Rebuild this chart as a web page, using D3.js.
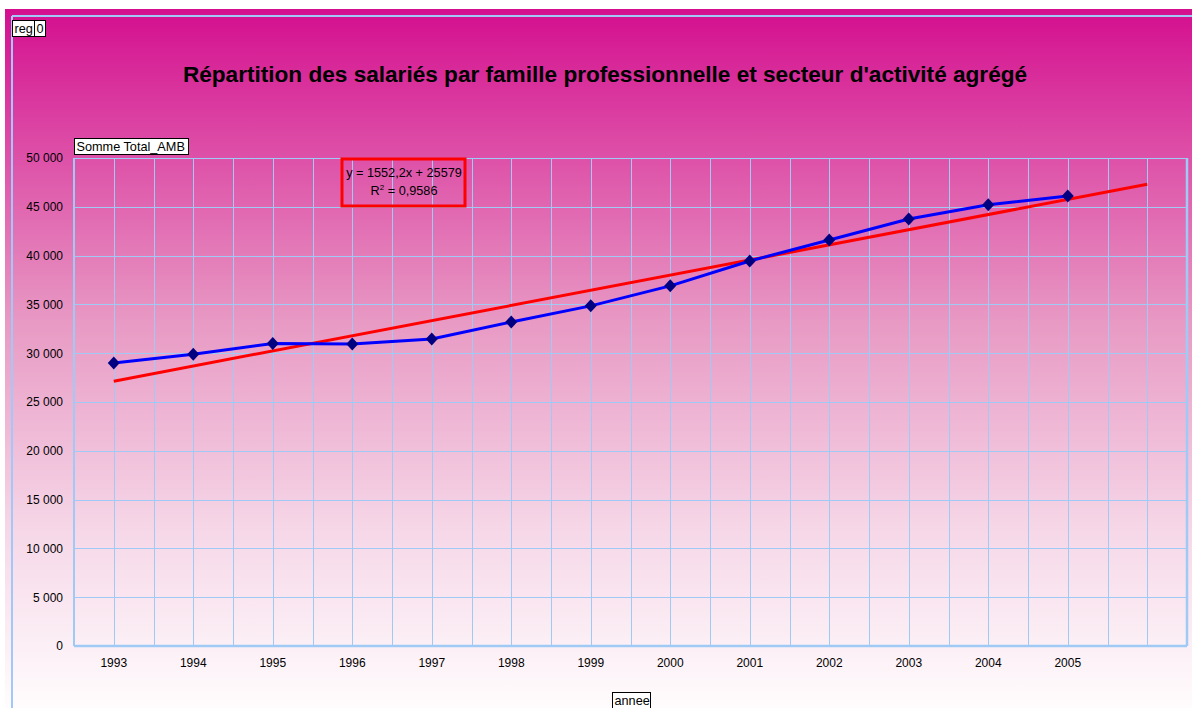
<!DOCTYPE html>
<html>
<head>
<meta charset="utf-8">
<script src="https://cdn.jsdelivr.net/npm/d3@7"></script>
<style>
  body { margin: 0; background: #fff; }
  text { font-family: "Liberation Sans", Arial, sans-serif; }
</style>
</head>
<body>
<div id="chart"></div>
<script>
// chart data
var years = ["1993","1994","1995","1996","1997","1998","1999","2000","2001","2002","2003","2004","2005",""];
var totalAMB = [29000, 29900, 31000, 30950, 31450, 33200, 34850, 36900, 39450, 41600, 43750, 45200, 46100];
var yTicks = [0, 5000, 10000, 15000, 20000, 25000, 30000, 35000, 40000, 45000, 50000];
var trendSlope = 1552.2, trendIntercept = 25579;
var trendEq = "y = 1552,2x + 25579";
var trendR2 = "0,9586";
var title = "Répartition des salariés par famille professionnelle et secteur d'activité agrégé";

var W = 1192, H = 708;
var margin = {top: 158, right: 5, bottom: 62, left: 74};
var width = W - margin.left - margin.right,
    height = H - margin.top - margin.bottom;

var svg = d3.select("#chart").append("svg")
  .attr("width", W).attr("height", H);

// background gradient
var defs = svg.append("defs");
var grad = defs.append("linearGradient").attr("id", "bg")
  .attr("x1", 0).attr("y1", 0).attr("x2", 0).attr("y2", 1);
grad.append("stop").attr("offset", "0%").attr("stop-color", "#d40f8f");
grad.append("stop").attr("offset", "45%").attr("stop-color", "#e89ac4");
grad.append("stop").attr("offset", "75%").attr("stop-color", "#f6d8e8");
grad.append("stop").attr("offset", "100%").attr("stop-color", "#fffcfd");

svg.append("rect").attr("x", 5).attr("y", 9).attr("width", W - 5).attr("height", H - 9)
  .attr("fill", "url(#bg)");

// outer border
svg.append("line").attr("x1", 12).attr("x2", W).attr("y1", 16).attr("y2", 16)
  .attr("stroke", "#a0c8f8").attr("stroke-width", 2);
svg.append("line").attr("x1", 12).attr("x2", 12).attr("y1", 16).attr("y2", H)
  .attr("stroke", "#a0c8f8").attr("stroke-width", 2);

// small boxed labels
function boxLabel(x, y, txt, w) {
  var g = svg.append("g").attr("transform", "translate(" + x + "," + y + ")");
  g.append("rect").attr("width", w).attr("height", 16)
    .attr("fill", "#fff").attr("stroke", "#000").attr("stroke-width", 1);
  g.append("text").attr("x", 2).attr("y", 12.5).attr("font-size", 12.7).text(txt);
  return g;
}
boxLabel(12.5, 20.5, "reg", 22);
boxLabel(34.5, 20.5, "0", 11);
boxLabel(74.5, 138.5, "Somme Total_AMB", 114);
boxLabel(612.5, 692.5, "annee", 38);

svg.append("text").attr("x", 605).attr("y", 82)
  .attr("text-anchor", "middle").attr("font-size", 22.6).attr("font-weight", "bold")
  .text(title);

var g = svg.append("g").attr("transform", "translate(" + margin.left + "," + margin.top + ")");

var x = d3.scaleBand().domain(years).range([0, width]);
var y = d3.scaleLinear().domain([0, 50000]).range([height, 0]);

// grid
var gridColor = "#9fcaf5";
var vlines = [];
years.forEach(function(d) { vlines.push(x(d)); vlines.push(x(d) + x.bandwidth() / 2); });
vlines.push(width);
g.selectAll(".vgrid").data(vlines).enter().append("line")
  .attr("x1", function(d) { return Math.round(d) + 0.5; })
  .attr("x2", function(d) { return Math.round(d) + 0.5; })
  .attr("y1", 0).attr("y2", height)
  .attr("stroke", gridColor).attr("stroke-width", 1);
g.selectAll(".hgrid").data(yTicks).enter().append("line")
  .attr("x1", 0).attr("x2", width)
  .attr("y1", function(d) { return Math.round(y(d)) + 0.5; })
  .attr("y2", function(d) { return Math.round(y(d)) + 0.5; })
  .attr("stroke", gridColor).attr("stroke-width", 1);

// plot frame
g.append("line").attr("x1", 0).attr("x2", width).attr("y1", height).attr("y2", height)
  .attr("stroke", gridColor).attr("stroke-width", 2.5);
g.append("line").attr("x1", width).attr("x2", width).attr("y1", 0).attr("y2", height)
  .attr("stroke", gridColor).attr("stroke-width", 2.5);
g.append("line").attr("x1", 0).attr("x2", 0).attr("y1", 0).attr("y2", height)
  .attr("stroke", gridColor).attr("stroke-width", 2);

// axes (labels only)
var yAxis = g.append("g").call(d3.axisLeft(y).tickValues(yTicks).tickSize(0).tickPadding(11)
  .tickFormat(function(d) { return d3.format(",")(d).replace(/,/g, " "); }));
yAxis.select(".domain").remove();
yAxis.selectAll("text").attr("font-size", 12).attr("fill", "#000")
  .attr("font-family", "Liberation Sans, Arial, sans-serif");

var xAxis = g.append("g").attr("transform", "translate(0," + height + ")")
  .call(d3.axisBottom(x).tickSize(0).tickPadding(12));
xAxis.select(".domain").remove();
xAxis.selectAll("text").attr("font-size", 12).attr("fill", "#000")
  .attr("font-family", "Liberation Sans, Arial, sans-serif");

// trend line (linear fit reported by the chart)
var xFirst = x(years[0]) + x.bandwidth() / 2,
    xLast = x(years[years.length - 1]) + x.bandwidth() / 2;
g.append("line")
  .attr("x1", xFirst).attr("y1", y(trendSlope * 1 + trendIntercept))
  .attr("x2", xLast).attr("y2", y(trendSlope * years.length + trendIntercept))
  .attr("stroke", "#ff0000").attr("stroke-width", 3);

// data line
var pts = totalAMB.map(function(v, i) { return [x(years[i]) + x.bandwidth() / 2, y(v)]; });
g.append("path").datum(pts)
  .attr("d", d3.line())
  .attr("fill", "none").attr("stroke", "#0000ff").attr("stroke-width", 3);

g.selectAll(".mk").data(pts).enter().append("path")
  .attr("transform", function(d) { return "translate(" + d[0] + "," + d[1] + ")"; })
  .attr("d", "M0,-6.5L6,0L0,6.5L-6,0Z")
  .attr("fill", "#000080");

// trend equation box
var eq = svg.append("g").attr("transform", "translate(342,159)");
eq.append("rect").attr("width", 123).attr("height", 47)
  .attr("fill", "none").attr("stroke", "#ff0000").attr("stroke-width", 3);
eq.append("text").attr("x", 62).attr("y", 18).attr("text-anchor", "middle")
  .attr("font-size", 12.7).text(trendEq);
var r2 = eq.append("text").attr("x", 62).attr("y", 36).attr("text-anchor", "middle")
  .attr("font-size", 12.7);
r2.append("tspan").text("R");
r2.append("tspan").attr("dy", -5).attr("font-size", 8).text("2");
r2.append("tspan").attr("dy", 5).text(" = " + trendR2);
</script>
</body>
</html>
